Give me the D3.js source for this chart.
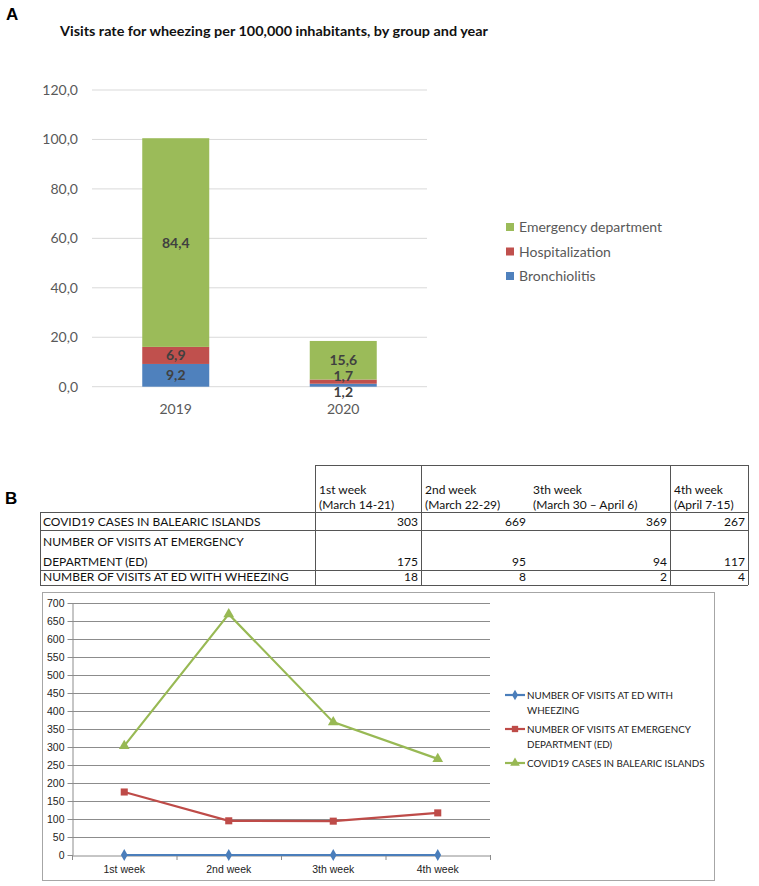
<!DOCTYPE html>
<html>
<head>
  <meta charset="UTF-8">
  <title>Wheezing visits – panels A and B</title>
  <script src="https://d3js.org/d3.v7.min.js"></script>
  <style>
    body { margin: 0; background: #fff; }
    svg { display: block; font-family: Lato, "Open Sans", sans-serif; }
    .grid line { stroke: #d9d9d9; }
    .tickA { font-size: 14px; fill: #595959; text-anchor: end; }
    .segLabel { font-size: 14px; font-weight: bold; fill: #404040; text-anchor: middle; }
    .legA { font-size: 14px; fill: #595959; }
    .cell { font-size: 12px; fill: #111; }
    .tickB { font-size: 10.5px; fill: #222; }
    .legB { font-size: 9.8px; fill: #222; }
  </style>
</head>
<body>
<svg width="759" height="886"></svg>
<script>
  // panel A data
  const yearsA = ["2019", "2020"];
  const bronchiolitis = [9.2, 1.2];
  const hospitalization = [6.9, 1.7];
  const emergencyDept = [84.4, 15.6];
  const seriesA = ["Bronchiolitis", "Hospitalization", "Emergency department"];
  const colorsA = ["#4f81bd", "#c0504d", "#9bbb59"];
  const yTicksA = [0, 20, 40, 60, 80, 100, 120];

  // panel B data
  const weeks = ["1st week", "2nd week", "3th week", "4th week"];
  const weekDates = ["(March 14-21)", "(March 22-29)", "(March 30 \u2013 April 6)", "(April 7-15)"];
  const rowNames = ["COVID19 CASES IN BALEARIC ISLANDS", "NUMBER OF VISITS AT EMERGENCY|DEPARTMENT (ED)", "NUMBER OF VISITS AT ED WITH WHEEZING"];
  const covidCases = [303, 669, 369, 267];
  const edVisits = [175, 95, 94, 117];
  const edWheezing = [18, 8, 2, 4];
  // blue line as it is drawn in the figure (sits on the zero line)
  const wheezingPlotted = [0, 0, 0, 0];
  const yTicksB = d3.range(0, 701, 50);

  const svg = d3.select("svg");
  const comma = v => d3.format(".1f")(v).replace(".", ",");

  // ---------- A ----------
  svg.append("text").attr("x", 6).attr("y", 20).attr("font-size", 17).attr("font-weight", "bold")
    .attr("font-family", "Liberation Sans, Arial").text("A");
  svg.append("text").attr("x", 60).attr("y", 36).attr("font-size", 13).attr("font-weight", "bold")
    .attr("fill", "#111").attr("textLength", 428).attr("lengthAdjust", "spacingAndGlyphs")
    .text("Visits rate for wheezing per 100,000 inhabitants,  by group and year");

  const xA = d3.scaleBand().domain(yearsA).range([92, 427]).paddingInner(0.6).paddingOuter(0.3);
  const yA = d3.scaleLinear().domain([0, 120]).range([386.7, 90]);

  svg.append("g").attr("class", "grid").selectAll("line").data(yTicksA).join("line")
    .attr("x1", 92).attr("x2", 427).attr("y1", d => yA(d)).attr("y2", d => yA(d));
  svg.append("g").selectAll("text").data(yTicksA).join("text").attr("class", "tickA")
    .attr("x", 78).attr("y", d => yA(d) + 5).text(comma);

  const stackRows = yearsA.map((yr, i) => ({
    year: yr, Bronchiolitis: bronchiolitis[i], Hospitalization: hospitalization[i],
    "Emergency department": emergencyDept[i]
  }));
  const stacked = d3.stack().keys(seriesA)(stackRows);

  const layers = svg.append("g").selectAll("g").data(stacked).join("g")
    .attr("fill", (d, i) => colorsA[i]);
  layers.selectAll("rect").data(d => d).join("rect")
    .attr("x", d => xA(d.data.year)).attr("width", xA.bandwidth())
    .attr("y", d => yA(d[1])).attr("height", d => yA(d[0]) - yA(d[1]));

  // labels centred on segments, spread apart when segments are too thin
  const labelsA = [];
  yearsA.forEach((yr, bi) => {
    const col = stacked.map(layer => {
      const d = layer[bi];
      return { year: yr, v: d[1] - d[0], y: (yA(d[0]) + yA(d[1])) / 2 };
    });
    for (let k = 0; k < 3; k++) {
      for (let j = 0; j < col.length - 1; j++) {
        const lo = col[j], up = col[j + 1];
        const gap = lo.y - up.y;
        if (gap < 16) { const s = (16 - gap) / 2; lo.y += s; up.y -= s; }
      }
    }
    labelsA.push(...col);
  });
  svg.append("g").selectAll("text").data(labelsA).join("text").attr("class", "segLabel")
    .attr("x", d => xA(d.year) + xA.bandwidth() / 2)
    .attr("y", d => d.y + 5)
    .text(d => comma(d.v));

  svg.append("g").selectAll("text").data(yearsA).join("text")
    .attr("x", d => xA(d) + xA.bandwidth() / 2).attr("y", 414)
    .attr("text-anchor", "middle").attr("font-size", 14).attr("fill", "#595959").text(d => d);

  const legA = svg.append("g").selectAll("g").data(seriesA.slice().reverse()).join("g")
    .attr("transform", (d, i) => `translate(506,${227 + i * 24.5})`);
  legA.append("rect").attr("x", 0).attr("y", -4).attr("width", 8).attr("height", 8)
    .attr("fill", d => colorsA[seriesA.indexOf(d)]);
  legA.append("text").attr("class", "legA").attr("x", 13).attr("y", 5).text(d => d);

  // ---------- B table ----------
  svg.append("text").attr("x", 5).attr("y", 504).attr("font-size", 17).attr("font-weight", "bold")
    .attr("font-family", "Liberation Sans, Arial").text("B");

  const colX = [40, 315, 421, 529, 670, 748];
  const rowY = [465, 512, 530, 570, 585];
  const tb = svg.append("g").attr("stroke", "#555").attr("stroke-width", 1).attr("shape-rendering", "crispEdges");
  tb.append("line").attr("x1", colX[1]).attr("x2", colX[5]).attr("y1", rowY[0]).attr("y2", rowY[0]);
  rowY.slice(1).forEach(y => tb.append("line").attr("x1", colX[0]).attr("x2", colX[5]).attr("y1", y).attr("y2", y));
  [1, 2, 4, 5].forEach(c => tb.append("line").attr("x1", colX[c]).attr("x2", colX[c]).attr("y1", rowY[0]).attr("y2", rowY[4]));
  tb.append("line").attr("x1", colX[0]).attr("x2", colX[0]).attr("y1", rowY[1]).attr("y2", rowY[4]);

  weeks.forEach((w, i) => {
    svg.append("text").attr("class", "cell").attr("x", colX[i + 1] + 4).attr("y", 494).text(w);
    svg.append("text").attr("class", "cell").attr("x", colX[i + 1] + 4).attr("y", 509).text(weekDates[i]);
  });
  const tableVals = [covidCases, edVisits, edWheezing];
  const rowBase = [526, 566, 581];
  rowNames.forEach((name, r) => {
    const parts = name.split("|");
    parts.forEach((p, k) => svg.append("text").attr("class", "cell")
      .attr("x", 43).attr("y", rowBase[r] - (parts.length - 1 - k) * 20).text(p));
    tableVals[r].forEach((v, c) => svg.append("text").attr("class", "cell").attr("text-anchor", "end")
      .attr("x", colX[c + 2] - 3).attr("y", rowBase[r]).text(v));
  });

  // ---------- B line chart ----------
  svg.append("rect").attr("x", 42.5).attr("y", 592.5).attr("width", 672).attr("height", 288)
    .attr("fill", "none").attr("stroke", "#a6a6a6");

  const xB = d3.scaleBand().domain(weeks).range([72, 490]);
  const yB = d3.scaleLinear().domain([0, 700]).range([855, 603]);
  const cx = w => xB(w) + xB.bandwidth() / 2;

  svg.append("g").selectAll("line").data(yTicksB.filter(d => d > 0)).join("line")
    .attr("x1", 72).attr("x2", 490).attr("y1", d => Math.round(yB(d)) + 0.5).attr("y2", d => Math.round(yB(d)) + 0.5)
    .attr("stroke", "#8c8c8c");
  svg.append("g").attr("transform", "translate(0,855.5)")
    .call(d3.axisBottom(xB).tickSize(5).tickSizeOuter(0)).call(g => {
      g.select(".domain").attr("stroke", "#8c8c8c");
      g.selectAll(".tick line").remove();
      g.selectAll(".tick text").attr("class", "tickB").attr("dy", "0.9em").attr("font-family", null).attr("font-size", null);
    });
  svg.append("g").selectAll("line").data(d3.range(5)).join("line")
    .attr("x1", i => 72 + i * xB.step() + 0.5).attr("x2", i => 72 + i * xB.step() + 0.5)
    .attr("y1", 855).attr("y2", 860).attr("stroke", "#8c8c8c");
  svg.append("g").attr("transform", "translate(72.5,0)")
    .call(d3.axisLeft(yB).tickValues(yTicksB).tickSize(5).tickSizeOuter(0)).call(g => {
      g.select(".domain").attr("stroke", "#8c8c8c");
      g.selectAll(".tick line").attr("stroke", "#8c8c8c");
      g.selectAll(".tick text").attr("class", "tickB").attr("x", -8).attr("font-family", null).attr("font-size", null);
    });

  const seriesB = [
    { name: "NUMBER OF VISITS AT ED WITH|WHEEZING", vals: wheezingPlotted, color: "#4a7ebb", sym: d3.symbolDiamond, size: 40 },
    { name: "NUMBER OF VISITS AT EMERGENCY|DEPARTMENT (ED)", vals: edVisits, color: "#be4b48", sym: d3.symbolSquare, size: 50 },
    { name: "COVID19 CASES IN BALEARIC ISLANDS", vals: covidCases, color: "#98b954", sym: d3.symbolTriangle, size: 50 }
  ];
  const line = d3.line().x((d, i) => cx(weeks[i])).y(d => yB(d));
  seriesB.slice().reverse().forEach(s => {
    svg.append("path").datum(s.vals).attr("d", line).attr("fill", "none")
      .attr("stroke", s.color).attr("stroke-width", 2.2);
    svg.append("g").selectAll("path").data(s.vals).join("path")
      .attr("transform", (d, i) => `translate(${cx(weeks[i])},${yB(d)})`)
      .attr("d", d3.symbol(s.sym, s.size)).attr("fill", s.color);
  });

  const legY = [695, 729, 763];
  seriesB.forEach((s, i) => {
    const g = svg.append("g").attr("transform", `translate(505,${legY[i]})`);
    g.append("line").attr("x1", 0).attr("x2", 20).attr("stroke", s.color).attr("stroke-width", 2.2);
    g.append("path").attr("transform", "translate(10,0)").attr("d", d3.symbol(s.sym, s.size * 0.8)).attr("fill", s.color);
    s.name.split("|").forEach((p, k) => g.append("text").attr("class", "legB")
      .attr("x", 22).attr("y", 4 + k * 14.5).text(p));
  });
</script>
</body>
</html>
